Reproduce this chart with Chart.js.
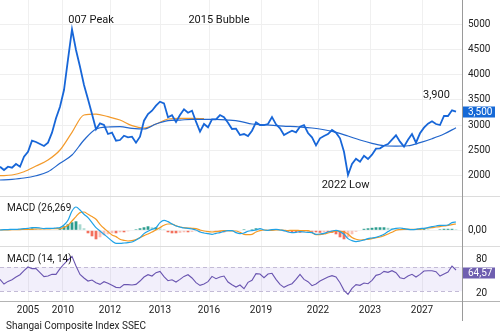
<!DOCTYPE html>
<html lang="en">
<head>
  <meta charset="UTF-8">
  <title>Shangai Composite Index SSEC</title>
  <script src="https://cdn.jsdelivr.net/npm/chart.js"></script>
  <style>
    body {
      margin: 0;
      background: #fff;
      overflow: hidden;
    }
    canvas {
      display: block;
    }
  </style>
</head>
<body>
<canvas id="chart" width="500" height="333"></canvas>

<script>
  // one sample = one step of the x axis (the whole history is ~115 samples)
  const PRICE = [
    2178, 2113, 2178, 2158, 2232, 2178, 2376, 2475, 2693, 2668,
    2628, 2588, 2654, 2852, 3137, 3367, 3698, 4306, 4900, 4490,
    4159, 3797, 3513, 3222, 2919, 3038, 3004, 2826, 2852, 2693,
    2707, 2792, 2761, 2773, 2654, 2773, 3090, 3222, 3288, 3387,
    3466, 3434, 3157, 3197, 3064, 3202, 3315, 3248, 3288, 3070,
    2872, 3024, 2959, 3117, 3117, 3202, 3157, 3050, 2925, 2931,
    2806, 2826, 2786, 2891, 3058, 3004, 3004, 3024, 3163, 3018,
    2939, 2806, 2852, 2891, 2860, 2971, 3004, 2846, 2761, 2602,
    2741, 2786, 2826, 2905, 2852, 2741, 2475, 2014, 2232, 2337,
    2277, 2396, 2331, 2416, 2535, 2543, 2594, 2628, 2713, 2800,
    2674, 2575, 2713, 2826, 2654, 2840, 2951, 3030, 3078, 3024,
    3004, 3183, 3183, 3296, 3268
  ];

  // moving averages, one value every MA_STEP samples
  const MA_STEP = 3;
  const MA_SLOW = [
    1915, 1929, 1954, 2000, 2079, 2246, 2410, 2707, 2925, 2965,
    2971, 2939, 2925, 3024, 3090, 3103, 3117, 3117, 3117, 3103,
    3078, 3024, 3010, 2991, 2979, 2965, 2945, 2911, 2860, 2786,
    2707, 2642, 2594, 2588, 2594, 2654, 2733, 2826, 2951
  ];
  const MA_FAST = [
    2000, 2014, 2079, 2192, 2311, 2509, 2860, 3202, 3222, 3169,
    3103, 2991, 2945, 3024, 3123, 3137, 3137, 3129
  ];

  const MACD = [
    3, 7, 7, 10, 10, 13, 17, 20, 27, 27,
    23, 17, 20, 20, 23, 27, 53, 100, 193, 233,
    203, 160, 127, 77, 27, -7, -40, -73, -107, -130,
    -130, -127, -123, -117, -97, -73, -33, -10, 10, 27,
    77, 100, 87, 63, 43, 33, 23, 20, 13, 3,
    -17, -27, -33, -40, -30, -23, -10, -3, -3, -23,
    -33, -27, -10, -3, 3, 17, 3, 0, 7, 10,
    3, -3, -17, -23, -20, -13, -17, -20, -23, -40,
    -37, -30, -17, -7, 0, -13, -40, -83, -103, -113,
    -107, -97, -83, -77, -70, -57, -40, -13, 10, 20,
    23, 17, 10, 7, 10, 17, 20, 27, 37, 43,
    50, 50, 53, 77, 83
  ];
  const SIGNAL = [
    3, 3, 3, 7, 7, 7, 10, 10, 10, 13,
    13, 13, 13, 17, 17, 17, 30, 50, 93, 137,
    177, 183, 160, 137, 110, 60, 20, -13, -47, -63,
    -90, -100, -107, -103, -93, -73, -53, -37, -17, 3,
    27, 50, 63, 63, 47, 33, 27, 23, 20, 17,
    3, -7, -13, -17, -13, -7, -3, -3, -7, -7,
    -20, -40, -43, -40, -17, -3, 3, 0, 0, 3,
    3, 0, -3, 0, 0, -3, -3, -3, -23, -43,
    -43, -37, -27, -17, -7, -10, -17, -37, -73, -90,
    -97, -93, -90, -83, -73, -67, -53, -37, -20, 0,
    7, 10, 10, 10, 10, 10, 17, 23, 27, 33,
    37, 43, 50, 57, 63
  ];
  const HIST = [
    0, 0, 0, 0, 5, 10, 15, 15, 20, 15,
    10, -5, -5, -5, 5, 20, 40, 60, 80, 90,
    60, 20, -30, -60, -90, -70, -50, -40, -30, -30,
    -20, -20, -10, -5, 10, 20, 30, 40, 30, 30,
    20, 10, -20, -30, -30, -25, -20, -20, -15, -10,
    -10, -5, 5, 5, -10, -15, -20, -10, -5, 5,
    5, 10, 5, 10, 20, 10, 5, -5, 5, 5,
    -5, -10, -15, -20, -20, -25, -20, -15, -15, -20,
    -25, -20, -20, -25, -40, -70, -90, -70, -40, -15,
    5, 15, 20, 25, 30, 30, 30, 25, 20, 10,
    10, 15, 15, 10, 10, 15, 15, 10, 5, 5,
    10, 15, 15, 15, 10
  ];

  const RSI = [
    44.6, 36.5, 41.1, 44.0, 48.7, 52.7, 59.7, 66.1, 63.2, 63.2,
    56.2, 49.3, 50.4, 53.3, 53.3, 63.2, 71.3, 78.3, 84.6, 67.8,
    53.3, 47.0, 41.7, 43.5, 38.8, 35.9, 40.6, 37.7, 34.2, 30.7,
    30.1, 35.4, 35.4, 34.8, 35.9, 41.7, 48.7, 52.7, 50.4, 56.2,
    58.5, 49.3, 42.3, 44.0, 40.0, 44.6, 49.8, 52.7, 47.0, 38.8,
    34.2, 36.5, 40.6, 49.8, 45.8, 48.7, 50.4, 40.0, 35.4, 31.3,
    34.8, 28.4, 39.4, 42.9, 54.5, 53.9, 47.5, 53.9, 55.1, 44.6,
    35.9, 30.7, 34.2, 37.1, 44.6, 53.3, 44.6, 40.6, 33.6, 36.5,
    41.7, 45.2, 48.7, 51.0, 48.7, 38.8, 25.5, 18.5, 29.0, 35.4,
    34.2, 38.2, 37.1, 42.9, 51.6, 53.3, 58.5, 56.8, 59.7, 56.2,
    47.5, 45.8, 50.4, 53.3, 48.7, 53.3, 59.1, 59.7, 59.7, 58.0,
    50.4, 53.9, 57.4, 67.8, 60.9
  ];
  const RSI_BAND = [24, 66];

  const X_TICK_POS = [7, 15.75, 27.5, 40, 52.25, 65.25, 79.5, 92.5, 105.5];
  const X_TICK_LABELS = ["2005", "2010", "2012", "2013", "2016", "2019", "2022", "2023", "2027"];
  const PRICE_TICKS = [2000, 2500, 3000, 3500, 4000, 4500, 5000];
  const MACD_TICKS = [0];
  const RSI_TICKS = [20, 50, 80];

  const PRICE_BADGE = "3,500";
  const RSI_BADGE = "64,57";
  const FOOTER = "Shangai Composite Index SSEC";

  // text notes placed in data units: [text, x sample, axis, value, align]
  const NOTES = [
    ["007 Peak", 22.75, "y", 5071, "center"],
    ["2015 Bubble", 54.75, "y", 5071, "center"],
    ["3,900", 109.1, "y", 3590, "center"],
    ["2022 Low", 86.4, "y", 1816, "center"],
    ["MACD (26,269", 1.75, "yMacd", 220, "left"],
    ["MACD (14, 14)", 1.75, "yRsi", 79.5, "left"]
  ];

  const FONT = "Roboto, 'Noto Sans', sans-serif";

  const series = (arr, step) => arr.map((v, i) => ({ x: i * step, y: v }));

  function histColor(ctx) {
    const i = ctx.dataIndex;
    const v = HIST[i];
    const prev = i > 0 ? HIST[i - 1] : 0;
    if (v >= 0) return v >= prev ? "#2b9c8e" : "#a6d8cf";
    return v <= prev ? "#f3705d" : "#f8c1b7";
  }

  function fixAxis(width) {
    return (s) => {
      s.width = width;
      s.paddingTop = 0;
      s.paddingBottom = 0;
    };
  }

  const decor = {
    id: "decor",
    beforeDatasetsDraw(chart) {
      const { ctx, chartArea, scales } = chart;
      const r = scales.yRsi;
      const top = r.getPixelForValue(RSI_BAND[1]);
      const bot = r.getPixelForValue(RSI_BAND[0]);
      ctx.save();
      ctx.fillStyle = "rgba(150, 120, 225, 0.12)";
      ctx.fillRect(chartArea.left, top, chartArea.right - chartArea.left, bot - top);
      ctx.strokeStyle = "#c3bbd6";
      ctx.lineWidth = 1;
      ctx.setLineDash([4, 3]);
      [top, bot].forEach(y => {
        ctx.beginPath();
        ctx.moveTo(chartArea.left, Math.round(y) + 0.5);
        ctx.lineTo(chartArea.right, Math.round(y) + 0.5);
        ctx.stroke();
      });
      ctx.restore();
    },
    afterDraw(chart) {
      const { ctx, chartArea, scales, width } = chart;
      ctx.save();

      // panel separators
      const seps = [[scales.yMacd.top, "#dcdcdc"], [scales.yRsi.top, "#dcdcdc"], [chartArea.bottom, "#b4b4b4"]];
      seps.forEach(([y, c]) => {
        ctx.strokeStyle = c;
        ctx.lineWidth = 1;
        ctx.beginPath();
        ctx.moveTo(0, Math.round(y) + 0.5);
        ctx.lineTo(width, Math.round(y) + 0.5);
        ctx.stroke();
      });

      // right axis line
      ctx.strokeStyle = "#9a9a9a";
      ctx.beginPath();
      ctx.moveTo(chartArea.right + 0.5, 0);
      ctx.lineTo(chartArea.right + 0.5, scales.x.bottom + 1);
      ctx.stroke();

      // last value badges
      const badge = (text, y, color) => {
        ctx.fillStyle = color;
        ctx.fillRect(chartArea.right + 1, Math.round(y) - 5.5, 32, 11);
        ctx.fillStyle = "#fff";
        ctx.font = "10px " + FONT;
        ctx.textAlign = "left";
        ctx.textBaseline = "middle";
        ctx.fillText(text, chartArea.right + 6, y + 0.5);
      };
      badge(PRICE_BADGE, scales.y.getPixelForValue(PRICE[PRICE.length - 1]), "#1669d6");
      badge(RSI_BADGE, scales.yRsi.getPixelForValue(RSI[RSI.length - 1]) + 3, "#6f5fb0");

      // notes
      ctx.fillStyle = "#161616";
      ctx.textBaseline = "middle";
      NOTES.forEach(([text, x, axis, v, align]) => {
        ctx.font = (axis === "y" ? "11px " : "10px ") + FONT;
        ctx.textAlign = align;
        ctx.fillText(text, scales.x.getPixelForValue(x), scales[axis].getPixelForValue(v));
      });

      // footer
      ctx.font = "10px " + FONT;
      ctx.textAlign = "left";
      ctx.fillStyle = "#222";
      ctx.fillText(FOOTER, 6, chart.height - 6.5);
      ctx.restore();
    }
  };

  const tickFont = { family: FONT, size: 10 };

  new Chart(document.getElementById("chart").getContext("2d"), {
    type: "line",
    data: {
      datasets: [
        { data: series(PRICE, 1), yAxisID: "y", borderColor: "#1766d8", borderWidth: 1.8, tension: 0 },
        { data: series(MA_SLOW, MA_STEP), yAxisID: "y", borderColor: "#2266cc", borderWidth: 1.2, cubicInterpolationMode: "monotone" },
        { data: series(MA_FAST, MA_STEP), yAxisID: "y", borderColor: "#f39a2b", borderWidth: 1.2, cubicInterpolationMode: "monotone" },
        { data: series(MACD, 1), yAxisID: "yMacd", borderColor: "#1fa2e6", borderWidth: 1.2, cubicInterpolationMode: "monotone" },
        { data: series(SIGNAL, 1), yAxisID: "yMacd", borderColor: "#f59a23", borderWidth: 1.2, cubicInterpolationMode: "monotone" },
        { type: "bar", data: series(HIST, 1), yAxisID: "yMacd", backgroundColor: histColor, barPercentage: 0.7, categoryPercentage: 1 },
        { data: series(RSI, 1), yAxisID: "yRsi", borderColor: "#6a55b0", borderWidth: 1.1, tension: 0 }
      ]
    },
    options: {
      responsive: false,
      animation: false,
      events: [],
      elements: { point: { radius: 0 } },
      layout: { padding: { left: 0, right: 0, top: 0, bottom: 13 } },
      plugins: { legend: { display: false }, tooltip: { enabled: false } },
      scales: {
        x: {
          type: "linear",
          min: 0,
          max: 115.5,
          offset: false,
          grid: { color: "#f0f0f0", drawTicks: false, offset: false },
          border: { display: false },
          ticks: { font: tickFont, color: "#222", padding: 3, maxRotation: 0, autoSkip: false,
                   callback: (v, i) => X_TICK_LABELS[i] },
          afterBuildTicks: s => { s.ticks = X_TICK_POS.map(v => ({ value: v })); },
          afterFit: s => { s.height = 19; s.paddingLeft = 0; s.paddingRight = 0; }
        },
        y: {
          position: "right", stack: "panes", stackWeight: 196,
          min: 1598, max: 5481,
          grid: { color: "#efefef", drawTicks: false },
          border: { display: false },
          ticks: { font: tickFont, color: "#222", padding: 6, callback: v => String(v) },
          afterBuildTicks: s => { s.ticks = PRICE_TICKS.map(v => ({ value: v })); },
          afterFit: fixAxis(38)
        },
        yMacd: {
          position: "right", stack: "panes", stackWeight: 50,
          min: -157, max: 343,
          grid: { color: "#f3f3f3", drawTicks: false },
          border: { display: false },
          ticks: { font: tickFont, color: "#222", padding: 6, callback: () => "0,00" },
          afterBuildTicks: s => { s.ticks = MACD_TICKS.map(v => ({ value: v })); },
          afterFit: fixAxis(38)
        },
        yRsi: {
          position: "right", stack: "panes", stackWeight: 55,
          min: 7, max: 102.6,
          grid: { display: false },
          border: { display: false },
          ticks: { font: tickFont, color: "#222", padding: 6, callback: v => String(v) },
          afterBuildTicks: s => { s.ticks = RSI_TICKS.map(v => ({ value: v })); },
          afterFit: fixAxis(38)
        }
      }
    },
    plugins: [decor]
  });
</script>
</body>
</html>
